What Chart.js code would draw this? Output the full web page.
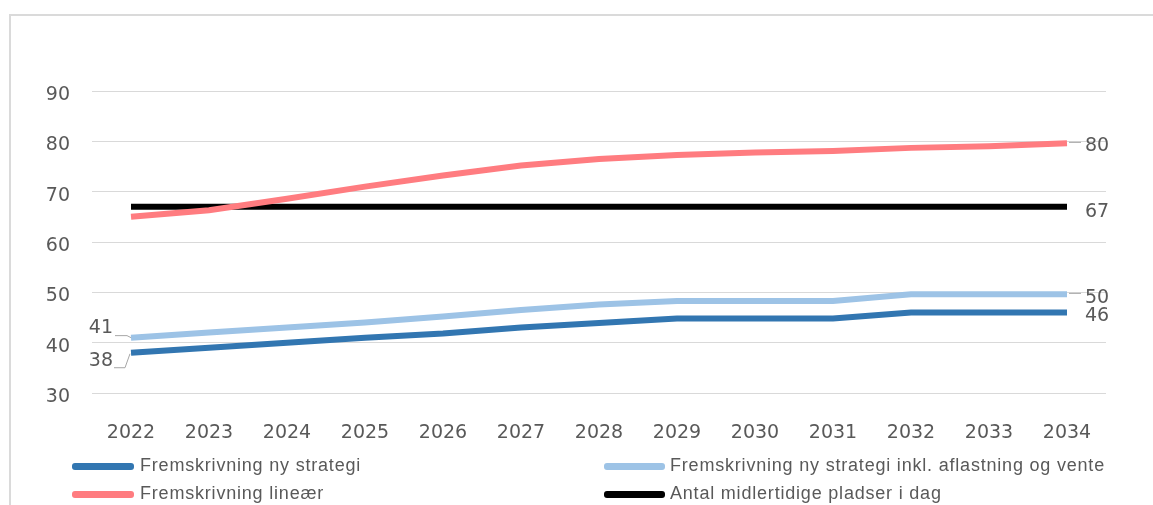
<!DOCTYPE html>
<html>
<head>
<meta charset="utf-8">
<script src="https://cdn.jsdelivr.net/npm/chart.js@4"></script>
<style>
  body { margin: 0; background: #fff; overflow: hidden; }
  #wrap { position: relative; width: 1153px; height: 505px; }
  #frame { position: absolute; left: 9px; top: 14px; right: -5px; bottom: -5px;
           border-top: 2px solid #dadada; border-left: 2px solid #dadada; }
  canvas { position: absolute; left: 0; top: 0; }
  .leg { position: absolute; font-family: "Liberation Sans", Arial, sans-serif;
         font-size: 18px; letter-spacing: 0.8px; color: #595959; white-space: nowrap; line-height: 20px; }
  .sw { position: absolute; height: 7px; border-radius: 3px; }
</style>
</head>
<body>
<div id="wrap">
  <div id="frame"></div>
  <canvas id="chart" width="1153" height="505"></canvas>
  <div id="legend"></div>
</div>
<script>
// Categories (years)
const years = ['2022', '2023', '2024', '2025', '2026', '2027', '2028',
               '2029', '2030', '2031', '2032', '2033', '2034'];

// Series values
const nyStrategi = [38, 39, 40, 41, 41.8, 43, 43.9, 44.8, 44.8, 44.8, 46, 46, 46];
const nyStrategiInkl = [41, 42, 43, 44, 45.2, 46.5, 47.6, 48.3, 48.3, 48.3, 49.6, 49.6, 49.6];
const linear = [65, 66.3, 68.6, 71, 73.2, 75.2, 76.5, 77.3, 77.8, 78.1, 78.7, 79.0, 79.6];
const midlertidige = [67, 67, 67, 67, 67, 67, 67, 67, 67, 67, 67, 67, 67];

const seriesNames = [
    'Fremskrivning ny strategi',
    'Fremskrivning ny strategi inkl. aflastning og vente',
    'Fremskrivning lineær',
    'Antal midlertidige pladser i dag'
];
const seriesColors = ['#3276b1', '#9dc3e6', '#ff7c80', '#000000'];

const textGray = '#595959';
const tickFont = { family: 'DejaVu Sans', size: 19 };

// Value labels at start / end of lines
const labelPlugin = {
    id: 'endLabels',
    afterDatasetsDraw(chart) {
        const ctx = chart.ctx;
        const last = years.length - 1;
        ctx.save();
        ctx.font = '19px "DejaVu Sans"';
        ctx.fillStyle = textGray;
        ctx.textBaseline = 'middle';
        ctx.strokeStyle = '#a6a6a6';
        ctx.lineWidth = 1;

        // right side: all four series
        const rightOffsets = [4, 4, 3, 5];
        [0, 1, 2, 3].forEach(i => {
            const pt = chart.getDatasetMeta(i).data[last];
            const val = chart.data.datasets[i].data[last];
            ctx.textAlign = 'left';
            ctx.fillText(Math.round(val), pt.x + 18, pt.y + rightOffsets[i]);
        });
        // short leaders on the right
        [1, 2].forEach(i => {
            const pt = chart.getDatasetMeta(i).data[last];
            ctx.beginPath();
            ctx.moveTo(pt.x + 2, pt.y - 1);
            ctx.lineTo(pt.x + 14, pt.y - 1);
            ctx.stroke();
        });

        // left side: the two blue series with leader lines
        const p1 = chart.getDatasetMeta(1).data[0];
        ctx.textAlign = 'right';
        ctx.fillText(Math.round(chart.data.datasets[1].data[0]), p1.x - 18, p1.y - 10);
        ctx.beginPath();
        ctx.moveTo(p1.x - 16, p1.y - 2);
        ctx.lineTo(p1.x - 4, p1.y - 2);
        ctx.lineTo(p1.x, p1.y);
        ctx.stroke();

        const p0 = chart.getDatasetMeta(0).data[0];
        ctx.fillText(Math.round(chart.data.datasets[0].data[0]), p0.x - 18, p0.y + 8);
        ctx.beginPath();
        ctx.moveTo(p0.x - 17, p0.y + 15);
        ctx.lineTo(p0.x - 6, p0.y + 15);
        ctx.lineTo(p0.x - 1, p0.y + 1);
        ctx.stroke();
        ctx.restore();
    }
};

const allValues = [nyStrategi, nyStrategiInkl, linear, midlertidige];

new Chart(document.getElementById('chart'), {
    type: 'line',
    data: {
        labels: years,
        datasets: allValues.map((vals, i) => ({
            label: seriesNames[i],
            data: vals,
            borderColor: seriesColors[i],
            backgroundColor: seriesColors[i],
            borderWidth: 6,
            pointRadius: 0,
            tension: 0,
            fill: false
        }))
    },
    options: {
        responsive: false,
        animation: false,
        layout: { padding: { left: 20, right: 47, top: 91, bottom: 52 } },
        plugins: {
            legend: { display: false },
            tooltip: { enabled: false }
        },
        scales: {
            x: {
                offset: true,
                grid: { display: false, drawTicks: false },
                border: { display: false },
                ticks: { color: textGray, font: tickFont, padding: 29, maxRotation: 0 },
                afterFit(scale) { scale.height = 60; }
            },
            y: {
                min: 30,
                max: 90,
                grid: { color: '#d9d9d9', lineWidth: 1, drawTicks: false },
                border: { display: false },
                ticks: { stepSize: 10, color: textGray, font: tickFont, padding: 22, labelOffset: 4 },
                afterFit(scale) { scale.width = 72; }
            }
        }
    },
    plugins: [labelPlugin]
});

// Legend in two columns below the chart
const legendPos = [
    { x: 72, y: 466, w: 62, tx: 140 },
    { x: 604, y: 466, w: 61, tx: 670 },
    { x: 72, y: 494, w: 62, tx: 140 },
    { x: 604, y: 494, w: 61, tx: 670 }
];
const legend = document.getElementById('legend');
seriesNames.forEach((name, i) => {
    const p = legendPos[i];
    const sw = document.createElement('div');
    sw.className = 'sw';
    sw.style.left = p.x + 'px';
    sw.style.top = (p.y - 3) + 'px';
    sw.style.width = p.w + 'px';
    sw.style.background = seriesColors[i];
    legend.appendChild(sw);
    const t = document.createElement('div');
    t.className = 'leg';
    t.style.left = p.tx + 'px';
    t.style.top = (p.y - 11) + 'px';
    t.textContent = name;
    legend.appendChild(t);
});
</script>
</body>
</html>
